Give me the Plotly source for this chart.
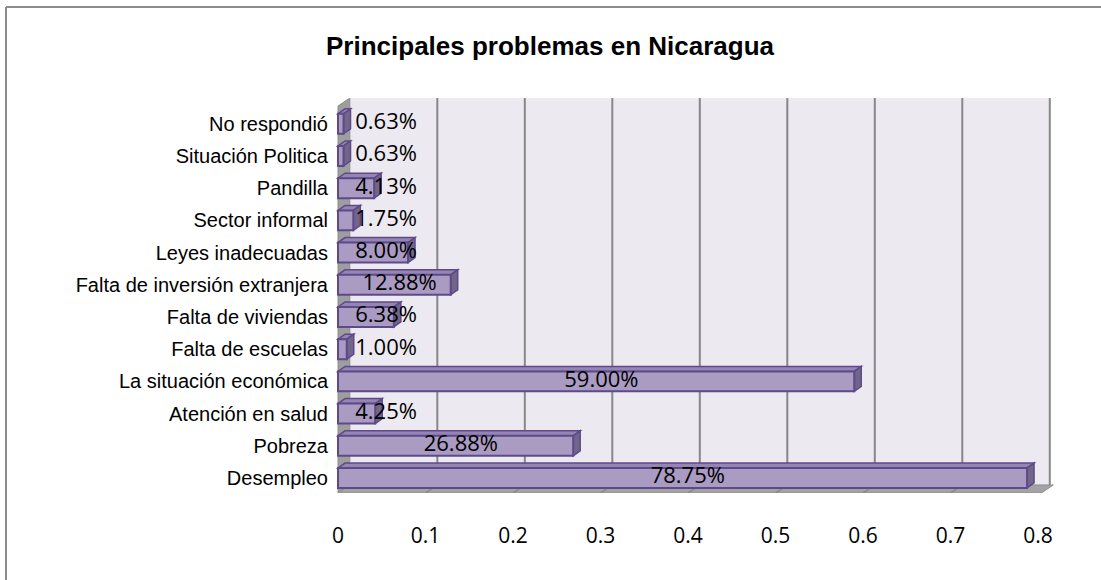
import plotly.graph_objects as go

# Datos (de abajo hacia arriba, como en el gráfico)
categorias = [
    "Desempleo",
    "Pobreza",
    "Atención en salud",
    "La situación económica",
    "Falta de escuelas",
    "Falta de viviendas",
    "Falta de inversión extranjera",
    "Leyes inadecuadas",
    "Sector informal",
    "Pandilla",
    "Situación Politica",
    "No respondió",
]
valores = [0.7875, 0.2688, 0.0425, 0.59, 0.01, 0.0638, 0.1288, 0.08, 0.0175, 0.0413, 0.0063, 0.0063]
etiquetas = ["78.75%", "26.88%", "4.25%", "59.00%", "1.00%", "6.38%", "12.88%",
             "8.00%", "1.75%", "4.13%", "0.63%", "0.63%"]
ticks_x = [0, 0.1, 0.2, 0.3, 0.4, 0.5, 0.6, 0.7, 0.8]
ticks_x_texto = ["0", "0.1", "0.2", "0.3", "0.4", "0.5", "0.6", "0.7", "0.8"]

W, H = 1101, 580
IZQ, DER, ARR, ABA = 336, 1056, 98, 493   # área de trazado en px

# Geometría del "3D" (en unidades de datos)
X_MIN, X_MAX = -0.0023, 0.8206
Y_MIN, Y_MAX = -0.466, 11.80
DX, DY = 0.0135, 0.25          # profundidad de paredes
DXB, DYB = 0.008, 0.155        # profundidad de barras
ANCHO = 0.62
FRENTE_R = 0.804

C_PARED = "#ECE9F1"
C_GRIS = "#A3A3A3"
C_GRILLA = "#878787"
C_BARRA = "#A99BC2"
C_BORDE = "#5E4A8A"
C_LADO = "#716588"
C_TOPE = "#9486B0"

ys = list(range(len(categorias)))


def poly(pts, fill, line=None, width=0):
    path = "M " + " L ".join(f"{x},{y}" for x, y in pts) + " Z"
    return dict(type="path", path=path, xref="x", yref="y", layer="below",
                fillcolor=fill, line=dict(color=line or fill, width=width))


shapes = []
# pared de fondo
shapes.append(poly([(DX, Y_MIN + DY), (ticks_x[-1] + DX, Y_MIN + DY),
                    (ticks_x[-1] + DX, Y_MAX), (DX, Y_MAX)], C_PARED))
# líneas de grilla en la pared
for t in ticks_x[1:]:
    shapes.append(dict(type="line", xref="x", yref="y", layer="below",
                       x0=t + DX, x1=t + DX, y0=Y_MIN + DY, y1=Y_MAX,
                       line=dict(color=C_GRILLA, width=2)))
# piso
shapes.append(poly([(0, Y_MIN), (FRENTE_R, Y_MIN), (FRENTE_R + DX, Y_MIN + DY),
                    (DX, Y_MIN + DY)], C_GRIS, "#8F8F8F", 1))
for t in ticks_x[1:-1]:
    shapes.append(dict(type="line", xref="x", yref="y", layer="below",
                       x0=t, x1=t + DX, y0=Y_MIN, y1=Y_MIN + DY,
                       line=dict(color="#8A8A8A", width=1.5)))
# pared izquierda
shapes.append(poly([(0, Y_MIN), (DX, Y_MIN + DY), (DX, Y_MAX), (0, Y_MAX - DY)],
                   "#9E9E9E", "#8C8C8C", 1))

# caras superior y lateral de cada barra
for y, v in zip(ys, valores):
    top = y + ANCHO / 2
    bot = y - ANCHO / 2
    shapes.append(poly([(0, top), (v, top), (v + DXB, top + DYB), (DXB, top + DYB)],
                       C_TOPE, C_BORDE, 1.5))
    shapes.append(poly([(v, bot), (v + DXB, bot + DYB), (v + DXB, top + DYB), (v, top)],
                       C_LADO, C_BORDE, 1.5))

# marco exterior (solo borde izquierdo y superior visibles)
px = lambda p: (p - IZQ) / (DER - IZQ)
py = lambda p: (ABA - p) / (ABA - ARR)
shapes.append(dict(type="line", xref="paper", yref="paper", x0=px(6), x1=px(1120),
                   y0=py(7), y1=py(7), line=dict(color="#8C8C8C", width=2)))
shapes.append(dict(type="line", xref="paper", yref="paper", x0=px(6), x1=px(6),
                   y0=py(7), y1=py(620), line=dict(color="#8C8C8C", width=2)))

fig = go.Figure()
fig.add_trace(go.Bar(
    x=valores, y=ys, orientation="h", width=ANCHO,
    marker=dict(color=C_BARRA, line=dict(color=C_BORDE, width=2)),
    hoverinfo="skip",
))
# posición de las etiquetas: centradas, o desplazadas si la barra es corta
pos_etq = [max(v / 2 + 0.006, 0.055) for v in valores]
fig.add_trace(go.Scatter(
    x=pos_etq, y=ys, mode="text", text=etiquetas, cliponaxis=False,
    textfont=dict(family="Open Sans", size=22, color="#000000"),
    hoverinfo="skip",
))

fig.update_layout(
    width=W, height=H,
    margin=dict(l=IZQ, r=W - DER, t=ARR, b=H - ABA),
    paper_bgcolor="white", plot_bgcolor="white",
    showlegend=False,
    shapes=shapes,
    title=dict(text="<b>Principales problemas en Nicaragua</b>",
               xref="container", x=550 / W, xanchor="center",
               yref="container", y=1 - 46 / H, yanchor="middle",
               font=dict(family="Liberation Sans", size=26, color="#000000")),
    xaxis=dict(range=[X_MIN, X_MAX], tickvals=ticks_x, ticktext=ticks_x_texto,
               showgrid=False, zeroline=False, showline=False,
               ticks="outside", ticklen=24, tickcolor="rgba(0,0,0,0)",
               tickfont=dict(family="Open Sans", size=21, color="#000000")),
    yaxis=dict(range=[Y_MIN, Y_MAX], tickvals=ys, ticktext=categorias,
               showgrid=False, zeroline=False, showline=False,
               ticks="outside", ticklen=3, tickcolor="rgba(0,0,0,0)",
               tickfont=dict(family="Liberation Sans", size=20, color="#000000")),
)

# sin el margen por defecto del <body> y sin barra de herramientas
fig.write_html("out.html", config={"displayModeBar": False},
               post_script="document.body.style.margin='0px';")
